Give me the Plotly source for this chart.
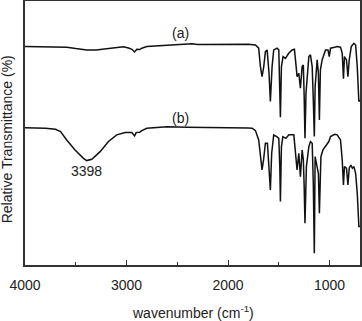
import plotly.graph_objects as go

# ── Data ──────────────────────────────────────────────────────────────────────

WN_A = [4000, 3900, 3800, 3700, 3589, 3500, 3392, 3300, 3161, 3030, 2980, 2947,
        2921, 2898, 2870, 2849, 2800, 2700, 2602, 2450, 2355, 2300, 2100, 1944,
        1800, 1730, 1698, 1681, 1665, 1648, 1632, 1615, 1596, 1583, 1566, 1550,
        1517, 1500, 1490, 1484, 1474, 1458, 1435, 1402, 1369, 1346, 1329, 1320,
        1303, 1287, 1270, 1258, 1250, 1242, 1232, 1215, 1204, 1188, 1171, 1160,
        1150, 1142, 1130, 1122, 1110, 1100, 1090, 1073, 1040, 1015, 1003, 990,
        950, 925, 892, 875, 863, 853, 833, 819, 806, 786, 760, 743, 727, 711, 700]
T_A = [82.5, 82.4, 82.4, 82.4, 82.25, 81.75, 81.25, 81.25, 81.75, 82.4, 82.0, 81.5,
       80.5, 81.5, 81.4, 81.9, 82.5, 82.75, 83.0, 83.25, 83.6, 83.25, 83.25, 83.4,
       83.4, 83.1, 81.9, 75.0, 71.25, 75.0, 80.6, 81.25, 72.5, 61.9, 75.0, 81.25,
       81.9, 81.25, 68.75, 56.0, 75.0, 78.75, 78.1, 80.0, 81.25, 81.5, 75.0, 71.25,
       72.5, 66.9, 75.0, 75.6, 63.75, 48.1, 65.0, 76.25, 78.75, 79.4, 75.0, 62.5,
       48.75, 67.5, 76.25, 77.5, 72.5, 55.0, 73.75, 77.5, 81.25, 81.25, 78.75, 81.9,
       82.25, 82.5, 82.25, 80.0, 70.5, 78.75, 77.5, 71.25, 77.5, 82.5, 83.75, 83.1, 75.0, 61.9, 62.5]

WN_B = [4000, 3900, 3800, 3700, 3650, 3589, 3507, 3424, 3392, 3342, 3260, 3178,
        3096, 3013, 2947, 2921, 2905, 2870, 2849, 2800, 2700, 2602, 2400, 2200,
        1944, 1800, 1763, 1730, 1698, 1680, 1665, 1650, 1632, 1612, 1596, 1583,
        1570, 1550, 1520, 1500, 1490, 1484, 1474, 1460, 1430, 1400, 1352, 1336,
        1320, 1303, 1287, 1270, 1258, 1250, 1242, 1228, 1204, 1188, 1171, 1160,
        1150, 1142, 1122, 1110, 1100, 1085, 1065, 1040, 1007, 990, 950, 925, 892,
        875, 863, 853, 833, 819, 806, 790, 775, 760, 743, 727, 711, 700]
T_B = [52.1, 52.0, 51.9, 51.5, 50.6, 47.5, 43.75, 40.6, 39.75, 40.25, 43.1, 46.9,
       49.4, 50.25, 50.25, 49.0, 50.25, 50.4, 51.0, 51.9, 52.25, 52.4, 52.25, 52.25,
       52.1, 52.0, 51.9, 51.0, 47.5, 41.25, 36.25, 40.0, 46.25, 46.25, 37.5, 28.75,
       42.5, 49.4, 48.75, 48.1, 37.5, 24.4, 45.0, 48.75, 48.1, 49.4, 49.4, 43.75,
       36.25, 42.5, 33.75, 43.75, 40.0, 30.0, 16.25, 37.5, 45.0, 46.9, 46.25, 31.25,
       5.0, 41.25, 37.5, 35.0, 20.0, 41.25, 43.75, 45.0, 46.9, 48.75, 49.6, 49.4, 47.5,
       40.0, 30.6, 37.5, 36.9, 30.6, 36.9, 38.1, 36.9, 37.5, 35.0, 27.5, 15.0, 15.0]

LABELS = ["(a)", "(b)", "3398"]
LABEL_X = [2470, 2470, 3398]
LABEL_Y = [87.6, 55.6, 36.0]

X_TICKS = [4000, 3000, 2000, 1000]

FONT = "Liberation Sans, Arial, sans-serif"
LINE = "#111111"
FRAME = "#333333"
TXT = dict(family=FONT, size=14, color="#222")

fig = go.Figure()

for wn, t in [(WN_A, T_A), (WN_B, T_B)]:
    fig.add_trace(go.Scatter(
        x=wn, y=t, mode="lines",
        line=dict(color=LINE, width=1.5),
        showlegend=False,
    ))

for text, x, y in zip(LABELS, LABEL_X, LABEL_Y):
    fig.add_annotation(x=x, y=y, text=text, showarrow=False, font=TXT)

# axis titles as annotations so they sit exactly where the original has them
fig.add_annotation(
    text="Relative Transmittance (%)", xref="paper", yref="paper",
    x=-0.053, y=0.477, xanchor="center", yanchor="middle",
    textangle=-90, showarrow=False, font=TXT,
)
fig.add_annotation(
    text="wavenumber (cm<sup>-1</sup>)", xref="paper", yref="paper",
    x=0.5, y=-0.178, xanchor="center", yanchor="middle",
    showarrow=False, font=TXT,
)

fig.update_layout(
    width=362, height=321,
    paper_bgcolor="white", plot_bgcolor="white",
    margin=dict(l=25, r=2, t=1, b=56, autoexpand=False),
    font=TXT,
    xaxis=dict(
        range=[4000, 700], automargin=False,
        tickvals=X_TICKS, tickfont=TXT, ticklabelstandoff=6,
        ticks="inside", ticklen=5, tickwidth=1, tickcolor=FRAME,
        minor=dict(ticks="inside", dtick=500, tick0=0, ticklen=3, tickcolor=FRAME),
        showline=True, linecolor=FRAME, linewidth=1.5, mirror=True,
        showgrid=False, zeroline=False,
    ),
    yaxis=dict(
        range=[0.6, 99.6], automargin=False,
        showticklabels=False, ticks="",
        showline=True, linecolor=FRAME, linewidth=1.5, mirror=True,
        showgrid=False, zeroline=False,
    ),
)

# the page body has a default 8px margin; drop it so the figure sits at 0,0
fig.write_html("out.html", config={"displayModeBar": False},
               post_script="document.body.style.margin = '0';")
